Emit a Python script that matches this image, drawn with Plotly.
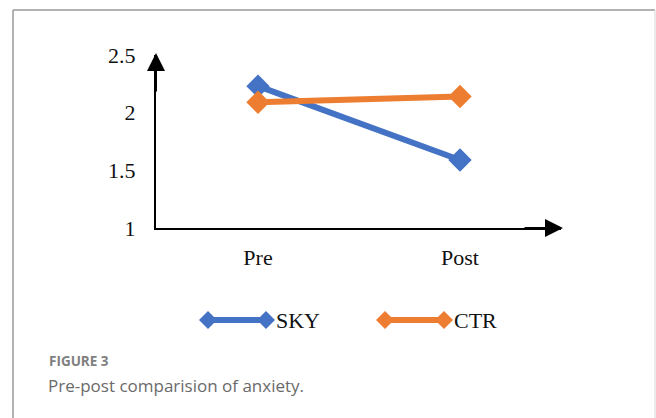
import plotly.graph_objects as go

W, H = 656, 418
categories = ["Pre", "Post"]
sky = [2.23, 1.59]
ctr = [2.09, 2.14]
y_ticks = [1, 1.5, 2, 2.5]
y_ticklabels = ["1", "1.5", "2", "2.5"]

BLUE = "#4472C4"
ORANGE = "#ED7D31"
SERIF = "Liberation Serif"

def px(x):
    return x / W

def py(y):
    return 1 - y / H

x_idx = list(range(len(categories)))

fig = go.Figure()
for name, vals, col in [("SKY", sky, BLUE), ("CTR", ctr, ORANGE)]:
    fig.add_trace(go.Scatter(
        x=x_idx, y=vals, name=name, mode="lines+markers",
        line=dict(color=col, width=6),
        marker=dict(symbol="diamond", size=18, color=col),
        showlegend=False,
    ))

shapes = []
annotations = []

# frame (top, left dark; right faint)
FR = dict(color="#9a9a9a", width=1.5)
shapes.append(dict(type="line", xref="paper", yref="paper",
                   x0=px(13), x1=px(655), y0=py(10), y1=py(10), line=FR))
shapes.append(dict(type="line", xref="paper", yref="paper",
                   x0=px(13), x1=px(13), y0=py(10), y1=0, line=FR))
shapes.append(dict(type="line", xref="paper", yref="paper",
                   x0=px(655), x1=px(655), y0=py(10), y1=0,
                   line=dict(color="#e4e4e4", width=1.5)))

# custom legend
legend_items = [("SKY", BLUE, 208, 266), ("CTR", ORANGE, 385, 444)]
ly = 320
for name, col, x0, x1 in legend_items:
    shapes.append(dict(type="line", xref="paper", yref="paper",
                       x0=px(x0), x1=px(x1), y0=py(ly), y1=py(ly),
                       line=dict(color=col, width=6)))
    for xc in (x0, x1):
        d = 9
        path = (f"M {px(xc-d)},{py(ly)} L {px(xc)},{py(ly-d)} "
                f"L {px(xc+d)},{py(ly)} L {px(xc)},{py(ly+d)} Z")
        shapes.append(dict(type="path", xref="paper", yref="paper", path=path,
                           fillcolor=col, line=dict(color=col, width=0)))
    annotations.append(dict(x=px(x1 + 8), y=py(ly), xref="paper", yref="paper",
                            text=name, showarrow=False, xanchor="left", yanchor="middle",
                            font=dict(family=SERIF, size=22, color="#111")))

# axis arrows
annotations.append(dict(x=px(156), y=py(53), xref="paper", yref="paper",
                        ax=0, ay=40, showarrow=True, arrowhead=2, arrowsize=1.8,
                        arrowwidth=2, arrowcolor="black", text=""))
annotations.append(dict(x=px(563), y=py(228), xref="paper", yref="paper",
                        ax=-40, ay=0, showarrow=True, arrowhead=2, arrowsize=1.8,
                        arrowwidth=2, arrowcolor="black", text=""))

# caption
annotations.append(dict(x=px(47), y=py(361), xref="paper", yref="paper",
                        text="<b>FIGURE 3</b>", showarrow=False, xanchor="left",
                        yanchor="middle", font=dict(family="Open Sans", size=13.5, color="#808080")))
annotations.append(dict(x=px(46), y=py(385), xref="paper", yref="paper",
                        text="Pre-post comparision of anxiety.", showarrow=False,
                        xanchor="left", yanchor="middle",
                        font=dict(family="Open Sans", size=17, color="#6a6a6a")))

fig.update_layout(
    width=W, height=H,
    margin=dict(l=0, r=0, t=0, b=0, autoexpand=False),
    paper_bgcolor="white", plot_bgcolor="white",
    shapes=shapes, annotations=annotations,
    xaxis=dict(domain=[px(156), px(561)], range=[-0.505, 1.5],
               tickvals=x_idx, ticktext=categories, showgrid=False, zeroline=False,
               showline=True, linecolor="black", linewidth=2, ticks="",
               ticklabelstandoff=9, automargin=False,
               tickfont=dict(family=SERIF, size=22, color="#111")),
    yaxis=dict(domain=[py(228), py(55)], range=[1, 2.5],
               tickvals=y_ticks, ticktext=y_ticklabels, showgrid=False, zeroline=False,
               showline=True, linecolor="black", linewidth=2, ticks="",
               ticklabelstandoff=14, automargin=False,
               tickfont=dict(family=SERIF, size=22, color="#111")),
)

fig.write_html("out.html", config={"displayModeBar": False},
               post_script="document.body.style.margin='0px';")
